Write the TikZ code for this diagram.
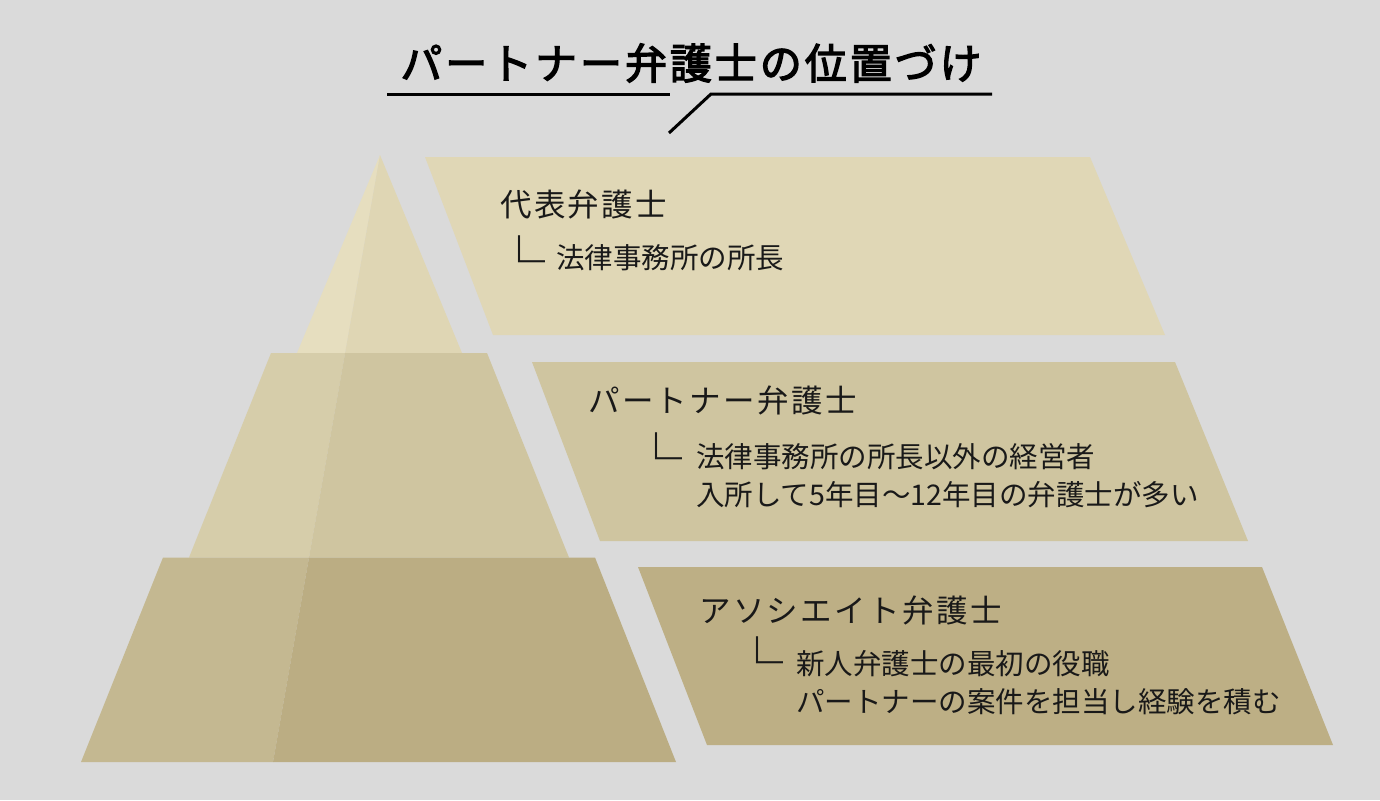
\documentclass[tikz,border=0pt]{standalone}
\usepackage{fontspec}
\setmainfont{Noto Sans CJK JP}
\definecolor{bgc}{RGB}{218,218,218}
\definecolor{tierAl}{RGB}{230,222,191}
\definecolor{tierAr}{RGB}{223,214,180}
\definecolor{tierBl}{RGB}{214,205,170}
\definecolor{tierBr}{RGB}{207,197,160}
\definecolor{tierCl}{RGB}{196,184,145}
\definecolor{tierCr}{RGB}{187,173,131}
\definecolor{panA}{RGB}{224,215,182}
\definecolor{panB}{RGB}{207,197,160}
\definecolor{panC}{RGB}{189,175,133}
\definecolor{ink}{RGB}{25,25,25}
\tikzset{
  titletext/.style={inner sep=0pt, anchor=base, text=black, font=\fontsize{42}{50}\selectfont\addfontfeature{LetterSpace=7,FakeBold=3}},
  headtext/.style={inner sep=0pt, anchor=base west, text=ink, font=\fontsize{31.5}{38}\selectfont\addfontfeature{LetterSpace=7.5}},
  subtext/.style={inner sep=0pt, anchor=base west, text=ink, font=\fontsize{28.5}{38}\selectfont},
  cornermark/.style={inner sep=0pt, anchor=base west, text=ink, font=\fontsize{52}{52}\selectfont},
  ruleline/.style={draw=black, line width=3pt}
}
\begin{document}
\begin{tikzpicture}[x=1pt,y=-1pt]
\fill[bgc] (0,0) rectangle (1380,800);
\useasboundingbox (0,0) rectangle (1380,800);
% pyramid
\fill[tierAl] (380,155) -- (297,353) -- (345.1,353) -- cycle;
\fill[tierAr] (380,155) -- (345.1,353) -- (462,353) -- cycle;
\fill[tierBl] (271,353) -- (345.1,353) -- (309,557.5) -- (189,557.5) -- cycle;
\fill[tierBr] (345.1,353) -- (487,353) -- (569,557.5) -- (309,557.5) -- cycle;
\fill[tierCl] (163,557.5) -- (309,557.5) -- (273,762) -- (81,762) -- cycle;
\fill[tierCr] (309,557.5) -- (595,557.5) -- (676,762) -- (273,762) -- cycle;
% panels
\fill[panA] (425,157) -- (1090,157) -- (1165,335) -- (493,335) -- cycle;
\fill[panB] (532,362) -- (1175,362) -- (1248,541) -- (600,541) -- cycle;
\fill[panC] (638,567) -- (1262,567) -- (1333,745) -- (707,745) -- cycle;
% title
\node[titletext] (title) at (691,79) {パートナー弁護士の位置づけ};
\coordinate (ulA) at (387,94);
\coordinate (ulB) at (670,94);
\coordinate (slA) at (669,133);
\coordinate (slB) at (711,94);
\coordinate (ulC) at (992,94);
\draw[ruleline] (ulA) -- (ulB);
\draw[ruleline] (slA) -- (slB) -- (ulC);
% panel 1
\node[headtext] (h1) at (500,216) {代表弁護士};
\node[cornermark] (c1) at (493,281) {└};
\node[subtext] (s1) at (556,268) {法律事務所の所長};
% panel 2
\node[headtext] (h2) at (588,412) {パートナー弁護士};
\node[cornermark] (c2) at (630,478) {└};
\node[subtext] (s2a) at (696,467) {法律事務所の所長以外の経営者};
\node[subtext] (s2b) at (696,505) {入所して5年目〜12年目の弁護士が多い};
% panel 3
\node[headtext] (h3) at (699,622) {アソシエイト弁護士};
\node[cornermark] (c3) at (731,682) {└};
\node[subtext] (s3a) at (796,674) {新人弁護士の最初の役職};
\node[subtext] (s3b) at (796,712) {パートナーの案件を担当し経験を積む};
\end{tikzpicture}
\end{document}
